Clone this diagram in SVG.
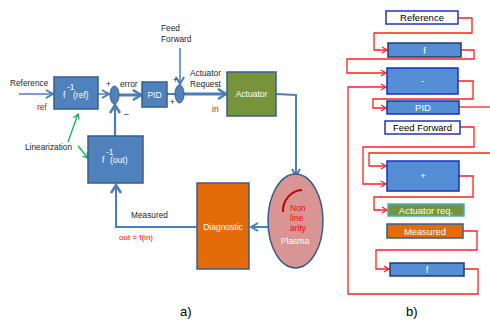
<svg xmlns="http://www.w3.org/2000/svg" width="490" height="324" viewBox="0 0 490 324">
<defs>
<style>
text{font-family:"Liberation Sans","Noto Sans",Arial,sans-serif}
.lbl{font-size:8.3px;fill:#262626}
.red{fill:#FF0000}
.wt{fill:#FFFFFF;font-size:8.5px}
.boxa{fill:#4F81BD;stroke:#385D8A;stroke-width:1.5}
.blue{fill:none;stroke:#4A7EBB;stroke-linejoin:miter}
.rl{fill:none;stroke:#FF2020;stroke-width:1.3}
.bx{stroke-width:1.5}
.bt{font-size:9.5px;text-anchor:middle}
</style>
<marker id="ab" markerUnits="userSpaceOnUse" markerWidth="12" markerHeight="12" refX="8" refY="5" orient="auto">
<path d="M1,1 L8,5 L1,9" fill="none" stroke="#4A7EBB" stroke-width="2"/>
</marker>
<marker id="abt" markerUnits="userSpaceOnUse" markerWidth="14" markerHeight="14" refX="9" refY="6" orient="auto">
<path d="M1,1 L9,6 L1,11" fill="none" stroke="#4A7EBB" stroke-width="2.6"/>
</marker>
<marker id="ar" markerUnits="userSpaceOnUse" markerWidth="8" markerHeight="8" refX="6" refY="4" orient="auto">
<path d="M1,1 L6,4 L1,7" fill="none" stroke="#FF2020" stroke-width="1.2"/>
</marker>
<marker id="ag" markerUnits="userSpaceOnUse" markerWidth="8" markerHeight="8" refX="6" refY="4" orient="auto">
<path d="M1,1 L6,4 L1,7" fill="none" stroke="#00B050" stroke-width="1.2"/>
</marker>
</defs>
<rect width="490" height="324" fill="#FFFFFF"/>

<g id="connectors">
<line class="blue" x1="19" y1="94" x2="53" y2="94" stroke-width="1.5" marker-end="url(#ab)"/>
<line class="blue" x1="98" y1="94" x2="109" y2="94" stroke-width="1.5" marker-end="url(#ab)"/>
<line class="blue" x1="119" y1="95" x2="141" y2="95" stroke-width="3" marker-end="url(#abt)"/>
<line class="blue" x1="167" y1="94" x2="175" y2="94" stroke-width="2"/>
<line class="blue" x1="180" y1="48" x2="180" y2="84" stroke-width="1.5" marker-end="url(#ab)"/>
<line class="blue" x1="184" y1="94" x2="226" y2="94" stroke-width="3" marker-end="url(#abt)"/>
<polyline class="blue" points="276,94 296,95 296,176" stroke-width="2" marker-end="url(#ab)"/>
<line class="blue" x1="268" y1="227" x2="251" y2="227" stroke-width="2" marker-end="url(#ab)"/>
<polyline class="blue" points="197,227 116,227 116,185" stroke-width="2" marker-end="url(#abt)"/>
<line class="blue" x1="115" y1="136" x2="115" y2="105" stroke-width="2.2" marker-end="url(#abt)"/>
<line x1="68" y1="142" x2="78" y2="114" stroke="#00B050" stroke-width="1.2" marker-end="url(#ag)"/>
<line x1="78" y1="146" x2="88" y2="158" stroke="#00B050" stroke-width="1.2" marker-end="url(#ag)"/>

<polyline class="rl" points="458,18 472,18 472,33 374,33 374,50 387,50" marker-end="url(#ar)"/>
<polyline class="rl" points="461,50 474,50 474,59 347,59 347,73 386,73" marker-end="url(#ar)"/>
<polyline class="rl" points="464,269 478,269 478,294 348,294 348,87 386,87" marker-end="url(#ar)"/>
<polyline class="rl" points="458,81 473,81 473,99 373,99 373,108 386,108" marker-end="url(#ar)"/>
<line class="rl" x1="459" y1="107" x2="490" y2="107"/>
<polyline class="rl" points="460,127 474,127 474,147 363,147 363,184 386,184" marker-end="url(#ar)"/>
<polyline class="rl" points="490,153 369,153 369,166 386,166" marker-end="url(#ar)"/>
<polyline class="rl" points="459,176 473,176 473,197 374,197 374,210 387,210" marker-end="url(#ar)"/>
<polyline class="rl" points="463,231 477,231 477,250 376,250 376,269 389,269" marker-end="url(#ar)"/>
</g>

<g id="labels-a">
<text class="lbl" x="10" y="86">Reference</text>
<text class="red" x="37" y="110" font-size="8.5">ref</text>
<text class="lbl" x="106" y="87">+</text>
<text class="lbl" x="120" y="87" font-size="8.7">error</text>
<text class="lbl" x="124" y="117">–</text>
<text class="lbl" x="161" y="31">Feed</text>
<text class="lbl" x="161" y="42">Forward</text>
<text class="lbl" x="173" y="83" font-size="7">+</text>
<text class="lbl" x="170" y="105" font-size="7">+</text>
<text class="lbl" x="190" y="76">Actuator</text>
<text class="lbl" x="190" y="87">Request</text>
<text class="red" x="212" y="112" font-size="8.5">in</text>
<text class="lbl" x="25" y="150" font-size="7">Linearization</text>
<text class="lbl" x="131" y="218">Measured</text>
<text class="red" x="119" y="240" font-size="8">out = f(in)</text>
<text x="180" y="316" font-size="13" fill="#000">a)</text>
<text x="406" y="316" font-size="13" fill="#000">b)</text>
</g>

<g id="fref">
<rect class="boxa" x="54" y="77" width="44" height="32"/>
<text class="wt" x="63" y="98">f</text>
<text class="wt" x="67" y="90" font-size="6">-1</text>
<text class="wt" x="73" y="98">(ref)</text>
</g>
<g id="sum1">
<ellipse cx="114.5" cy="95" rx="4.5" ry="9" fill="#4F81BD" stroke="#385D8A" stroke-width="1"/>
</g>
<g id="pid">
<rect class="boxa" x="142" y="82" width="25" height="25"/>
<text class="wt" x="154.5" y="97.5" text-anchor="middle">PID</text>
</g>
<g id="sum2">
<ellipse cx="179.5" cy="94" rx="4.5" ry="9" fill="#4F81BD" stroke="#385D8A" stroke-width="1"/>
</g>
<g id="actuator">
<rect x="227" y="72" width="49" height="44" fill="#77933C" stroke="#385D8A" stroke-width="1.5"/>
<text class="wt" x="251.5" y="97" text-anchor="middle">Actuator</text>
</g>
<g id="plasma">
<ellipse cx="295.5" cy="221" rx="27.5" ry="47" fill="#D99594" stroke="#385D8A" stroke-width="1.5"/>
<path d="M283,212 A20,21 0 0 1 302,190" fill="none" stroke="#C00000" stroke-width="2"/>
<text class="red" x="290" y="211" font-size="8.5">Non</text>
<text class="red" x="290" y="221" font-size="8.5">line</text>
<text class="red" x="290" y="231" font-size="8.5">arity</text>
<text x="295" y="244" font-size="8.5" fill="#FFFFFF" text-anchor="middle">Plasma</text>
</g>
<g id="diagnostic">
<rect x="197" y="183" width="52" height="86" fill="#E36C09" stroke="#385D8A" stroke-width="1.5"/>
<text class="wt" x="223" y="230" text-anchor="middle">Diagnostic</text>
</g>
<g id="fout">
<rect class="boxa" x="88" y="136" width="55" height="47"/>
<text class="wt" x="102" y="163">f</text>
<text class="wt" x="106" y="155" font-size="6">-1</text>
<text class="wt" x="110" y="163">(out)</text>
</g>

<g id="b-reference">
<rect class="bx" x="386" y="11" width="72" height="13" fill="#FFFFFF" stroke="#2233BB"/>
<text class="bt" x="422" y="21" fill="#000">Reference</text>
</g>
<g id="b-f1">
<rect class="bx" x="388" y="43" width="73" height="14" fill="#558ED5" stroke="#1F3C7A"/>
<text class="bt" x="424.5" y="53.5" fill="#FFFFFF">f</text>
</g>
<g id="b-minus">
<rect class="bx" x="387" y="68" width="71" height="26" fill="#558ED5" stroke="#1133BB"/>
<text class="bt" x="422.5" y="84" fill="#FFFFFF">-</text>
</g>
<g id="b-pid">
<rect class="bx" x="387" y="101" width="72" height="13" fill="#558ED5" stroke="#1133BB"/>
<text class="bt" x="423" y="111" fill="#FFFFFF">PID</text>
</g>
<g id="b-ff">
<rect class="bx" x="385" y="121" width="75" height="13" fill="#FFFFFF" stroke="#2233BB"/>
<text class="bt" x="422.5" y="131" fill="#000">Feed Forward</text>
</g>
<g id="b-plus">
<rect class="bx" x="387" y="161" width="72" height="30" fill="#558ED5" stroke="#1133BB"/>
<text class="bt" x="423" y="179" fill="#FFFFFF">+</text>
</g>
<g id="b-act">
<rect class="bx" x="388" y="204" width="76" height="12" fill="#77933C" stroke="#4BACC6"/>
<text class="bt" x="426" y="213.5" fill="#FFFFFF">Actuator req.</text>
</g>
<g id="b-meas">
<rect class="bx" x="387" y="224" width="76" height="14" fill="#E36C09" stroke="#385D8A"/>
<text class="bt" x="425" y="234.5" fill="#FFFFFF">Measured</text>
</g>
<g id="b-f2">
<rect class="bx" x="390" y="263" width="74" height="13" fill="#558ED5" stroke="#1F3C7A"/>
<text class="bt" x="427" y="273" fill="#FFFFFF">f</text>
</g>
</svg>
